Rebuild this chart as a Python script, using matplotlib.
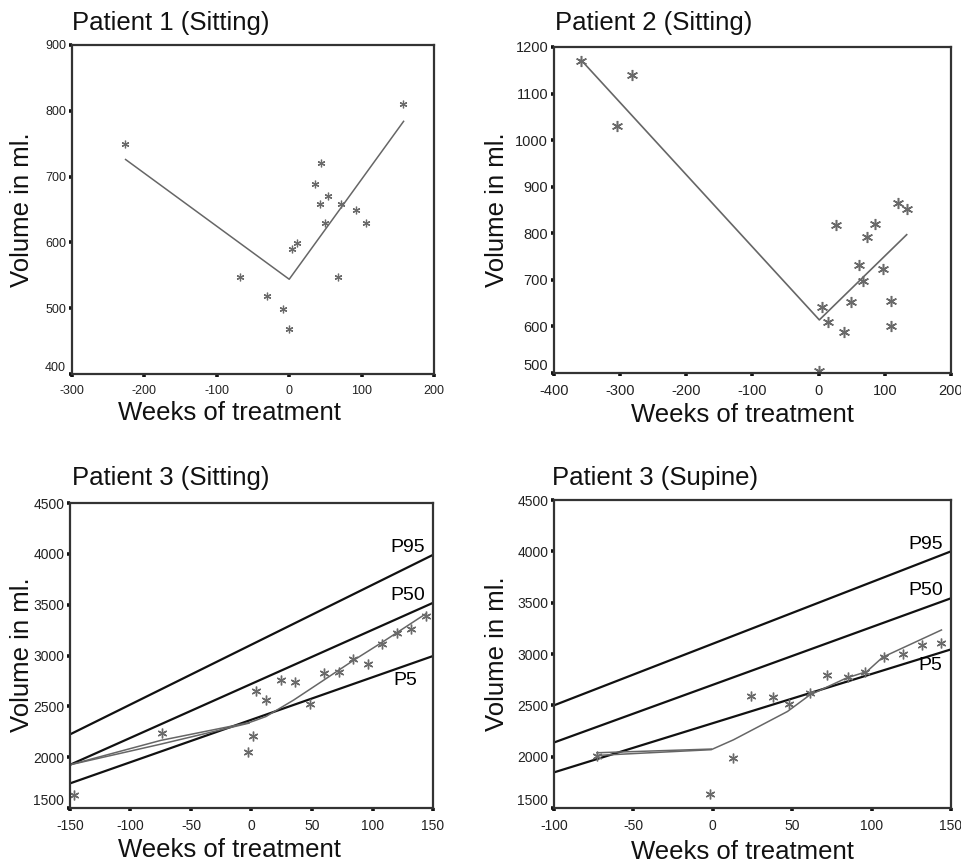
import matplotlib
matplotlib.use('Agg')
import matplotlib.pyplot as plt

plt.rcParams['font.family'] = ['Liberation Sans', 'DejaVu Sans']
plt.rcParams['axes.unicode_minus'] = False

# ---------------- data ----------------
p1_weeks = [-227, -68, -31, -9, 0, 4, 11, 35, 42, 44, 49, 53, 67, 71, 92, 106, 157]
p1_vol = [750, 548, 518, 499, 469, 590, 599, 688, 659, 720, 629, 670, 548, 659, 649, 629, 810]
p1_fit_weeks = [-226, 0, 158]
p1_fit_vol = [726, 544, 784]

p2_weeks = [-359, -305, -282, 1, 5, 14, 26, 38, 49, 61, 67, 73, 85, 97, 109, 109, 120, 133]
p2_vol = [1170, 1030, 1140, 505, 641, 609, 818, 589, 652, 732, 698, 793, 820, 724, 655, 600, 866, 853]
p2_fit_weeks = [-359, 1, 133]
p2_fit_vol = [1172, 614, 797]

p3_weeks = [-147, -74, -3, 1, 4, 12, 24, 36, 48, 60, 72, 84, 96, 108, 120, 132, 144]
p3_vol = [1630, 2234, 2053, 2207, 2655, 2559, 2757, 2740, 2523, 2829, 2842, 2970, 2921, 3118, 3217, 3260, 3390]
p3_fit_weeks = [-150, -75, -2, 4, 12, 35, 60, 84, 108, 144]
p3_fit_vol = [1925, 2165, 2340, 2365, 2400, 2563, 2760, 2950, 3130, 3410]
p3_fit2_weeks = [-150, -75, -2]
p3_fit2_vol = [1925, 2128, 2335]
p3_ref_weeks = [-150, 150]
p3_p95 = [2224, 3990]
p3_p50 = [1925, 3518]
p3_p5 = [1742, 2995]

p4_weeks = [-73, -2, 13, 24, 38, 48, 61, 72, 85, 96, 108, 120, 132, 144]
p4_vol = [2009, 1640, 1983, 2592, 2579, 2511, 2618, 2799, 2773, 2822, 2974, 3000, 3087, 3103]
p4_fit_weeks = [-73, -1, 13, 47, 61, 84, 97, 107, 144]
p4_fit_vol = [2012, 2068, 2164, 2440, 2600, 2765, 2829, 2969, 3234]
p4_fit2_weeks = [-73, -1]
p4_fit2_vol = [2038, 2074]
p4_ref_weeks = [-100, 150]
p4_p95 = [2500, 4000]
p4_p50 = [2138, 3543]
p4_p5 = [1847, 3045]

titles = ['Patient 1 (Sitting)', 'Patient 2 (Sitting)', 'Patient 3 (Sitting)', 'Patient 3 (Supine)']
xlabel = 'Weeks of treatment'
ylabel = 'Volume in ml.'

# ---------------- layout ----------------
W, H = 962, 864
fig = plt.figure(figsize=(W / 100, H / 100), dpi=100)


def axes_px(l, t, r, b):
    return fig.add_axes([l / W, 1 - b / H, (r - l) / W, (b - t) / H])


def style(ax, xlim, xticks, ylim, yticks, tsize):
    ax.set_xlim(*xlim)
    ax.set_ylim(*ylim)
    ax.set_xticks(xticks)
    ax.set_yticks(yticks)
    for s in ax.spines.values():
        s.set_linewidth(1.6)
        s.set_color('#333333')
    ax.tick_params(axis='both', direction='out', length=2.2, width=2.6,
                   color='#111111', labelsize=tsize, labelcolor='#222222')
    ax.tick_params(axis='y', pad=2)
    ax.tick_params(axis='x', pad=6)
    ax.yaxis.get_major_ticks()[0].label1.set_verticalalignment('bottom')


star = (6, 2, 0)
gray = '#6a6a6a'

# Panel 1
ax1 = axes_px(72, 45, 434, 374)
style(ax1, (-300, 200), range(-300, 201, 100), (400, 900), range(400, 901, 100), 9)
ax1.plot(p1_fit_weeks, p1_fit_vol, color='#666666', lw=1.1)
ax1.plot(p1_weeks, p1_vol, ls='none', marker=star, ms=5.5, mew=0.9, color=gray)

# Panel 2
ax2 = axes_px(554, 47, 951, 373)
style(ax2, (-400, 200), range(-400, 201, 100), (500, 1200), range(500, 1201, 100), 10.5)
ax2.plot(p2_fit_weeks, p2_fit_vol, color='#666666', lw=1.2)
ax2.plot(p2_weeks, p2_vol, ls='none', marker=star, ms=8, mew=1.1, color=gray)

# Panel 3
ax3 = axes_px(70, 503, 433, 808)
style(ax3, (-150, 150), range(-150, 151, 50), (1500, 4500), range(1500, 4501, 500), 10)
for vals in (p3_p95, p3_p50, p3_p5):
    ax3.plot(p3_ref_weeks, vals, color='#111111', lw=1.6)
ax3.plot(p3_fit_weeks, p3_fit_vol, color='#666666', lw=1.1)
ax3.plot(p3_fit2_weeks, p3_fit2_vol, color='#666666', lw=1.1)
ax3.plot(p3_weeks, p3_vol, ls='none', marker=star, ms=7, mew=1.0, color=gray)
ax3.annotate('P95', xy=(p3_ref_weeks[-1], p3_p95[-1]), xytext=(-6, 2), textcoords='offset points',
             ha='right', va='baseline', fontsize=14)
ax3.annotate('P50', xy=(p3_ref_weeks[-1], p3_p50[-1]), xytext=(-6, 2), textcoords='offset points',
             ha='right', va='baseline', fontsize=14)
ax3.annotate('P5', xy=(p3_ref_weeks[-1], p3_p5[-1]), xytext=(-11, -21), textcoords='offset points',
             ha='right', va='baseline', fontsize=14)

# Panel 4
ax4 = axes_px(554, 500, 951, 808)
style(ax4, (-100, 150), range(-100, 151, 50), (1500, 4500), range(1500, 4501, 500), 10)
for vals in (p4_p95, p4_p50, p4_p5):
    ax4.plot(p4_ref_weeks, vals, color='#111111', lw=1.6)
ax4.plot(p4_fit_weeks, p4_fit_vol, color='#666666', lw=1.1)
ax4.plot(p4_fit2_weeks, p4_fit2_vol, color='#666666', lw=1.1)
ax4.plot(p4_weeks, p4_vol, ls='none', marker=star, ms=7, mew=1.0, color=gray)
ax4.annotate('P95', xy=(p4_ref_weeks[-1], p4_p95[-1]), xytext=(-6, 2), textcoords='offset points',
             ha='right', va='baseline', fontsize=14)
ax4.annotate('P50', xy=(p4_ref_weeks[-1], p4_p50[-1]), xytext=(-6, 2), textcoords='offset points',
             ha='right', va='baseline', fontsize=14)
ax4.annotate('P5', xy=(p4_ref_weeks[-1], p4_p5[-1]), xytext=(-6, -15), textcoords='offset points',
             ha='right', va='baseline', fontsize=14)

# Titles and axis labels
title_pos = [(72, 23), (555, 23), (72, 478), (552, 478)]
xlab_pos = [(229, 413), (742, 415), (229, 850), (742, 852)]
ylab_pos = [(22, 210), (497, 210), (22, 655), (497, 654)]
for (tx, ty), (xx, xy), (yx, yy), t in zip(title_pos, xlab_pos, ylab_pos, titles):
    fig.text(tx / W, 1 - ty / H, t, ha='left', va='center', fontsize=18.5, color='#111111')
    fig.text(xx / W, 1 - xy / H, xlabel, ha='center', va='center', fontsize=18.5, color='#111111')
    fig.text(yx / W, 1 - yy / H, ylabel, ha='center', va='center', rotation=90,
             fontsize=18.5, color='#111111')

fig.savefig('out.png', dpi=100)
